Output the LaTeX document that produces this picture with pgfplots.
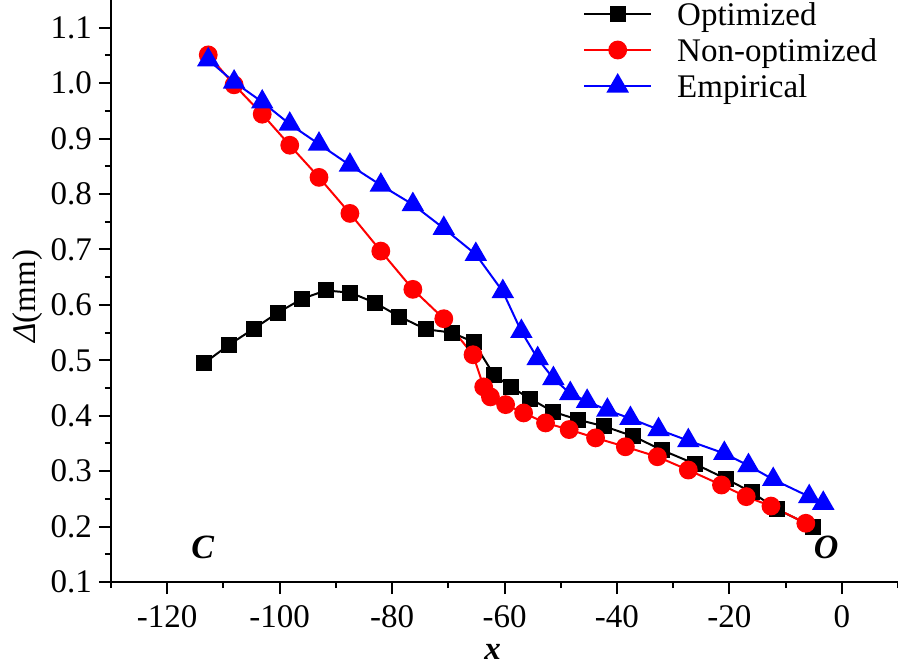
\documentclass[border=0pt]{standalone}
\usepackage{fontspec}
\setmainfont{Liberation Serif}
\usepackage{pgfplots}
\pgfplotsset{compat=1.18}

\begin{document}
\begin{tikzpicture}
\begin{axis}[name=ax, scale only axis, width=393.5pt, height=291pt,
  xmin=-130, xmax=10, ymin=0.1, ymax=1.15,
  axis x line=bottom, axis y line=left, axis line style={-, line width=1pt},
  tick align=outside, major tick length=6pt, minor tick length=3pt,
  every tick/.style={black, line width=1pt},
  xtick={-120,-100,...,0}, minor xtick={-130,-110,...,10},
  ytick={0.1,0.2,...,1.1}, minor ytick={0.15,0.25,...,1.05},
  yticklabel style={/pgf/number format/.cd, fixed, fixed zerofill, precision=1},
  /pgf/number format/assume math mode=true,
  tick label style={font=\fontsize{16.5}{18}\selectfont},
  xticklabel style={yshift=-2pt},
  xlabel={\textbf{\textit{x}}}, ylabel={\textit{Δ}(mm)},
  label style={font=\fontsize{16.5}{18}\selectfont},
  xlabel style={at={(axis description cs:0.485,-0.120)}, anchor=center},
  ylabel style={at={(axis description cs:-0.1055,0.491)}, anchor=center, rotate=0},
  clip=false,
  legend cell align=left,
  legend image code/.code={\draw[mark repeat=2,mark phase=2,#1] plot coordinates {(0pt,2pt) (16.75pt,2pt) (33.5pt,2pt)};
    \path[draw=none] (0pt,2pt) rectangle (46.5pt,2pt);},
  legend style={at={(rel axis cs:0.6,1.0)}, anchor=north west, draw=none, fill=none,
    inner sep=0pt, outer sep=0pt, font=\fontsize{16.5}{18}\selectfont, row sep=0pt,
    nodes={inner sep=0pt, text height=12.5pt, text depth=5.5pt}},
]
\addplot[black, line width=1pt, mark=square*, mark size=3.5pt] coordinates {
(-113.4,0.495) (-109.0,0.528) (-104.6,0.557) (-100.3,0.586) (-96.0,0.611)
(-91.8,0.626) (-87.4,0.622) (-83.1,0.604) (-78.7,0.579) (-74.0,0.556)
(-69.4,0.550) (-65.5,0.533) (-61.9,0.474) (-58.9,0.452) (-55.5,0.431)
(-51.3,0.407) (-47.0,0.393) (-42.3,0.381) (-37.1,0.363) (-32.0,0.338)
(-26.1,0.313) (-20.6,0.286) (-16.0,0.262) (-11.5,0.231) (-5.1,0.200)};
\addlegendentry{Optimized}
\addplot[red, line width=1pt, mark=*, mark size=4.2pt] coordinates {
(-112.7,1.051) (-108.1,0.997) (-103.1,0.944) (-98.2,0.888) (-93.0,0.830)
(-87.5,0.765) (-82.0,0.697) (-76.3,0.628) (-70.8,0.575) (-65.6,0.510)
(-63.7,0.452) (-62.5,0.434) (-59.8,0.420) (-56.6,0.405) (-52.7,0.387)
(-48.5,0.375) (-43.8,0.360) (-38.5,0.344) (-32.8,0.326) (-27.3,0.302)
(-21.4,0.275) (-17.0,0.254) (-12.6,0.237) (-6.4,0.206)};
\addlegendentry{Non-optimized}
\addplot[blue, line width=1pt, mark=triangle*, mark size=5.5pt] coordinates {
(-112.7,1.042) (-108.1,1.002) (-103.1,0.966) (-98.2,0.926) (-93.0,0.890)
(-87.5,0.852) (-82.0,0.816) (-76.3,0.781) (-70.8,0.738) (-65.1,0.691)
(-60.3,0.624) (-57.0,0.552) (-54.1,0.503) (-51.3,0.467) (-48.3,0.440)
(-45.3,0.426) (-41.7,0.410) (-37.6,0.395) (-32.6,0.375) (-27.3,0.355)
(-20.9,0.332) (-16.6,0.310) (-12.2,0.285) (-5.8,0.254) (-3.3,0.242)};
\addlegendentry{Empirical}
\node[font=\fontsize{17}{18}\selectfont\bfseries\itshape] at (axis cs:-113.7,0.162) {C};
\node[font=\fontsize{17}{18}\selectfont\bfseries\itshape] at (axis cs:-2.8,0.162) {O};
\end{axis}
\pgfresetboundingbox
\path (ax.south west) ++(-55.5pt,-42pt) rectangle (ax.north east);
\end{tikzpicture}
\end{document}
